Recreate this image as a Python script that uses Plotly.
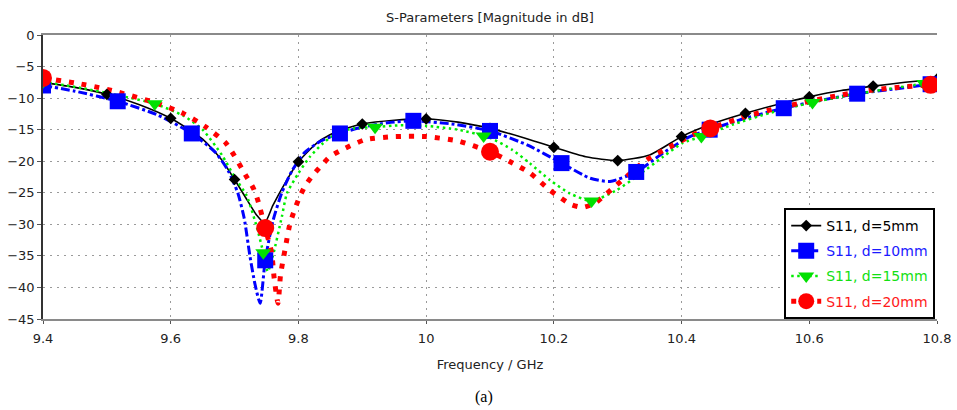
import plotly.graph_objects as go

# ---------------- data ----------------
# d = 5 mm
f5 = [9.40, 9.45, 9.50, 9.55, 9.60, 9.65, 9.68, 9.70, 9.72, 9.735, 9.747, 9.76, 9.78, 9.80,
      9.83, 9.86, 9.90, 9.95, 10.00, 10.05, 10.10, 10.15, 10.20, 10.25, 10.30, 10.35, 10.40,
      10.45, 10.50, 10.55, 10.60, 10.65, 10.70, 10.75, 10.80]
s5 = [-7.5, -8.3, -9.4, -11.0, -13.2, -16.5, -19.8, -22.9, -26.2, -28.6, -29.8, -27.0, -23.3, -20.1,
      -17.0, -15.3, -14.1, -13.5, -13.3, -13.8, -14.8, -16.2, -17.8, -19.3, -19.9, -19.0, -16.1,
      -14.0, -12.4, -11.0, -9.8, -8.8, -8.1, -7.5, -7.0]
f5_mk = [9.4, 9.5, 9.6, 9.7, 9.8, 9.9, 10.0, 10.1, 10.2, 10.3, 10.4, 10.5, 10.6, 10.7, 10.8]
s5_mk = [-7.5, -9.4, -13.2, -22.9, -20.1, -14.1, -13.3, -14.8, -17.8, -19.9, -16.1, -12.4, -9.8, -8.1, -7.0]

# d = 10 mm
f10 = [9.40, 9.45, 9.517, 9.58, 9.633, 9.67, 9.69, 9.705, 9.715, 9.724, 9.732, 9.74, 9.748, 9.76,
       9.774, 9.79, 9.81, 9.835, 9.865, 9.90, 9.94, 9.98, 10.04, 10.10, 10.16, 10.212, 10.257,
       10.288, 10.329, 10.371, 10.413, 10.444, 10.50, 10.56, 10.62, 10.675, 10.73, 10.79, 10.80]
s10 = [-8.0, -8.9, -10.5, -12.7, -15.6, -18.6, -21.5, -25.0, -29.0, -35.0, -39.5, -42.5, -35.7, -29.5,
       -25.0, -21.5, -18.6, -16.8, -15.6, -14.6, -13.9, -13.6, -14.1, -15.2, -17.5, -20.3, -22.7,
       -23.2, -21.7, -18.7, -16.1, -15.0, -13.2, -11.6, -10.3, -9.3, -8.6, -7.8, -7.7]
f10_mk = [9.40, 9.517, 9.633, 9.748, 9.865, 9.98, 10.10, 10.212, 10.329, 10.444, 10.56, 10.675, 10.79]
s10_mk = [-8.0, -10.5, -15.6, -35.7, -15.6, -13.6, -15.2, -20.3, -21.7, -15.0, -11.6, -9.3, -7.8]

# d = 15 mm
f15 = [9.40, 9.46, 9.52, 9.575, 9.62, 9.65, 9.68, 9.70, 9.719, 9.735, 9.745, 9.752, 9.76, 9.774,
       9.782, 9.80, 9.818, 9.839, 9.86, 9.886, 9.92, 9.96, 10.00, 10.05, 10.10, 10.135, 10.162,
       10.194, 10.225, 10.259, 10.298, 10.33, 10.371, 10.402, 10.431, 10.48, 10.54, 10.60, 10.66,
       10.72, 10.78, 10.80]
s15 = [-7.4, -8.4, -9.6, -10.9, -12.8, -15.0, -19.0, -22.5, -25.5, -30.5, -34.5, -37.5, -35.0, -28.8,
       -25.1, -21.9, -19.3, -17.1, -15.6, -14.8, -14.6, -14.3, -14.4, -15.0, -16.3, -18.2, -20.3,
       -23.0, -25.1, -26.3, -24.6, -22.4, -19.3, -17.1, -16.1, -14.2, -12.3, -10.8, -9.6,
       -8.6, -7.7, -7.4]
f15_mk = [9.40, 9.575, 9.745, 9.92, 10.09, 10.259, 10.431, 10.605, 10.78]
s15_mk = [-7.4, -10.9, -34.5, -14.6, -16.0, -26.3, -16.1, -10.7, -7.7]

# d = 20 mm
f20 = [9.40, 9.45, 9.50, 9.578, 9.619, 9.654, 9.687, 9.719, 9.73, 9.737, 9.748, 9.758, 9.762, 9.768,
       9.772, 9.779, 9.787, 9.80, 9.81, 9.822, 9.835, 9.849, 9.868, 9.904, 9.95, 10.00, 10.05,
       10.10, 10.13, 10.163, 10.194, 10.228, 10.246, 10.265, 10.283, 10.314, 10.345, 10.382,
       10.418, 10.445, 10.50, 10.55, 10.60, 10.65, 10.70, 10.75, 10.79, 10.80]
s20 = [-6.8, -7.6, -8.6, -10.8, -12.4, -14.5, -17.2, -22.5, -24.4, -26.4, -30.6, -34.5, -38.5, -42.5,
       -38.0, -34.0, -29.8, -26.1, -24.0, -22.3, -20.8, -19.3, -18.2, -16.6, -16.1, -16.1, -16.8,
       -18.5, -20.0, -21.9, -24.6, -26.9, -27.3, -26.6, -25.1, -22.4, -19.8, -17.7,
       -15.8, -14.8, -12.9, -11.6, -10.5, -9.5, -8.7, -8.2, -7.9, -7.8]
f20_mk = [9.40, 9.748, 10.10, 10.445, 10.79]
s20_mk = [-6.8, -30.6, -18.5, -14.8, -7.9]

names = ["S11, d=5mm", "S11, d=10mm", "S11, d=15mm", "S11, d=20mm"]
text_colors = ["#000000", "#1a1aff", "#12e012", "#ff1a1a"]

# ---------------- styles ----------------
series = [
    (f5, s5, f5_mk, s5_mk, dict(color="#000000", width=1.6, dash="solid"),
     dict(symbol="diamond", size=9, color="#000000")),
    (f10, s10, f10_mk, s10_mk, dict(color="#0000ff", width=3, dash="dashdot"),
     dict(symbol="square", size=16, color="#0000ff")),
    (f15, s15, f15_mk, s15_mk, dict(color="#00ee00", width=2.5, dash="2.5px,3.5px"),
     dict(symbol="triangle-down", size=14, color="#00e000")),
    (f20, s20, f20_mk, s20_mk, dict(color="#ff0000", width=5, dash="5px,8px"),
     dict(symbol="circle", size=18, color="#ff0000")),
]

fig = go.Figure()
for i, (fx, sy, fm, sm, line, marker) in enumerate(series):
    fig.add_trace(go.Scatter(x=fx, y=sy, mode="lines", line=dict(shape="spline", smoothing=0.6, **line),
                             showlegend=False, hoverinfo="skip"))
for i, (fx, sy, fm, sm, line, marker) in enumerate(series):
    fig.add_trace(go.Scatter(x=fm, y=sm, mode="markers", marker=dict(line=dict(width=0), **marker),
                             showlegend=False))
for i, (fx, sy, fm, sm, line, marker) in enumerate(series):
    fig.add_trace(go.Scatter(x=[None], y=[None], mode="lines+markers",
                             line=line, marker=dict(line=dict(width=0), **marker),
                             name=f'<span style="color:{text_colors[i]}">{names[i]}</span>',
                             legendgroup=f"g{i}", showlegend=True))

font_family = "DejaVu Sans, Verdana, sans-serif"

fig.update_layout(
    width=957, height=410,
    margin=dict(l=43, r=20, t=35, b=91, autoexpand=False),
    paper_bgcolor="white", plot_bgcolor="white",
    font=dict(family=font_family, size=13, color="#222"),
    title=dict(text="S-Parameters [Magnitude in dB]", x=(490 / 957), xanchor="center",
               y=1 - 17 / 410, yanchor="middle", yref="container",
               font=dict(family=font_family, size=13, color="#222")),
    legend=dict(x=0.998, xanchor="right", y=0.0, yanchor="bottom",
                bgcolor="white", bordercolor="#000", borderwidth=2,
                font=dict(family=font_family, size=14),
                tracegroupgap=4, itemwidth=30),
    showlegend=True,
)

fig.update_xaxes(range=[9.4, 10.8], dtick=0.2, tick0=9.4,
                 showgrid=True, gridcolor="#9a9a9a", griddash="2px,5px", gridwidth=1,
                 showline=True, linecolor="#8a8a8a", linewidth=2, mirror=True,
                 ticks="outside", ticklen=3, tickcolor="#555",
                 zeroline=False, ticklabelstandoff=3,
                 title=dict(text="Frequency / GHz", standoff=15,
                            font=dict(family=font_family, size=13, color="#222")),
                 tickfont=dict(family=font_family, size=13, color="#222"))
fig.update_yaxes(range=[-45, 0], dtick=5,
                 showgrid=True, gridcolor="#9a9a9a", griddash="2px,5px", gridwidth=1,
                 showline=True, linecolor="#333", linewidth=1.5, mirror=False,
                 ticks="outside", ticklen=4, tickcolor="#555",
                 zeroline=False,
                 tickfont=dict(family=font_family, size=13, color="#222"))

fig.add_annotation(text="(a)", xref="paper", yref="paper", x=(484 - 43) / 894, y=(319 - 397) / 284,
                   xanchor="center", yanchor="middle", showarrow=False,
                   font=dict(family="Liberation Serif, Times New Roman, serif", size=16, color="#000"))

fig.write_html("out.html")
